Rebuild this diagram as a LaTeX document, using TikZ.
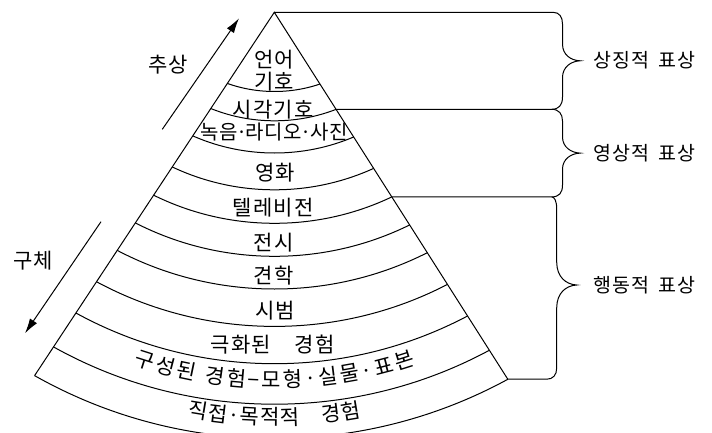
\documentclass[tikz,border=0pt]{standalone}
\usepackage{fontspec}
\newfontfamily\kfont[LetterSpace=6]{Noto Sans CJK KR}
\usetikzlibrary{arrows.meta,decorations.text,calc}
\begin{document}
\begin{tikzpicture}[x=1pt,y=1pt,line width=1pt,
  lbl/.style={font=\kfont\fontsize{21}{22}\selectfont,inner sep=0pt},
  side/.style={font=\kfont\fontsize{19.5}{22}\selectfont,inner sep=0pt,anchor=west},
  arr/.style={-{Latex[length=15pt,width=8.5pt]},line width=1pt},
  curvetext/.style={decorate,decoration={text along path,text align=fit to path,
     text={|\kfont\fontsize{21}{22}\selectfont|#1}}}]
\useasboundingbox (0,0) rectangle (712,432);
% cone geometry
\coordinate (A) at (274.3,419.7);
\coordinate (C) at (274.5,482);
\coordinate (BL) at (34.6,56.4);
\coordinate (BR) at (507.8,52.8);
\begin{scope}
  \clip (A) -- ($(A)!1.3!(BL)$) -- ($(A)!1.3!(BR)$) -- cycle;
  \foreach \r in {141.5,170.8,203,239.8,273.3,306.3,339,376.4,413.7,454.2,488.5}
    \draw (C) circle[radius=\r];
\end{scope}
\draw (BL) -- (A) -- (BR);
% right end points of the dividing arcs
\coordinate (s2) at (336.0,322.7);
\coordinate (s5) at (391.8,235.1);
\coordinate (b1) at (553,419.7);
\coordinate (b2) at (551.7,322.7);
\coordinate (b3) at (551.7,235.1);
\coordinate (b4) at (546.7,52.8);
% braces
\draw (A) -- (b1) .. controls (559.5,419.7) and (562.5,415) .. (562.5,408)
  -- (562.5,388) .. controls (562.5,377) and (571,371.6) .. (580,371.2)
  .. controls (571,370.8) and (562.5,365) .. (562.5,354.4)
  -- (562.5,335) .. controls (562.5,327) and (559,322.7) .. (b2) -- (s2);
\draw (b2) .. controls (559,322.7) and (562.5,318) .. (562.5,311)
  -- (562.5,295) .. controls (562.5,285) and (571,279.3) .. (580,278.9)
  .. controls (571,278.5) and (562.5,273) .. (562.5,262.8)
  -- (562.5,247) .. controls (562.5,239) and (559,235.1) .. (b3) -- (s5);
\draw (b3) .. controls (554.5,235.1) and (556.7,231) .. (556.7,223)
  -- (556.7,170) .. controls (556.7,155) and (566,147.5) .. (576.7,147)
  .. controls (566,146.5) and (556.7,139) .. (556.7,124)
  -- (556.7,64) .. controls (556.7,57) and (553,52.8) .. (b4) -- (BR);
% labels inside the cone
\node[lbl,align=center] (n1) at (274,361) {언어\\기호};
\node[lbl] (n2) at (273,322) {시각기호};
\node[lbl,font=\kfont\fontsize{20}{22}\selectfont] (n3) at (274,299.5)
  {\addfontfeature{LetterSpace=3}녹음\kern-1.5pt·\kern-1.5pt라디오\kern-1.5pt·\kern-1.5pt사진};
\node[lbl] (n4) at (275,259) {영화};
\node[lbl] (n5) at (273,224.5) {텔레비전};
\node[lbl] (n6) at (273.5,189.5) {전시};
\node[lbl] (n7) at (273.5,156) {견학};
\node[lbl] (n8) at (275,121) {시범};
\node[lbl] (n9) at (272.5,87) {극화된　경험};
\path[curvetext={구성된 경험−모형·실물·표본}] (C) ++(251.2:438) arc[start angle=251.2,end angle=288.8,radius=438];
\path[curvetext={직접·목적적　경험}] (C) ++(259.4:475) arc[start angle=259.4,end angle=280.6,radius=475];
% side labels and arrows
\node[lbl] (abs) at (168,367) {추상};
\node[lbl] (con) at (33,171) {구체};
\coordinate (u1) at (162.3,302.7);
\coordinate (u2) at (239,413.7);
\coordinate (d1) at (101,210.3);
\coordinate (d2) at (25,98.7);
\draw[arr] (u1) -- (u2);
\draw[arr] (d1) -- (d2);
\node[side] (sym) at (593,372) {상징적\hspace{0.45em}표상};
\node[side] (ico) at (593,279) {영상적\hspace{0.45em}표상};
\node[side] (enc) at (593,147) {행동적\hspace{0.45em}표상};
\end{tikzpicture}
\end{document}
